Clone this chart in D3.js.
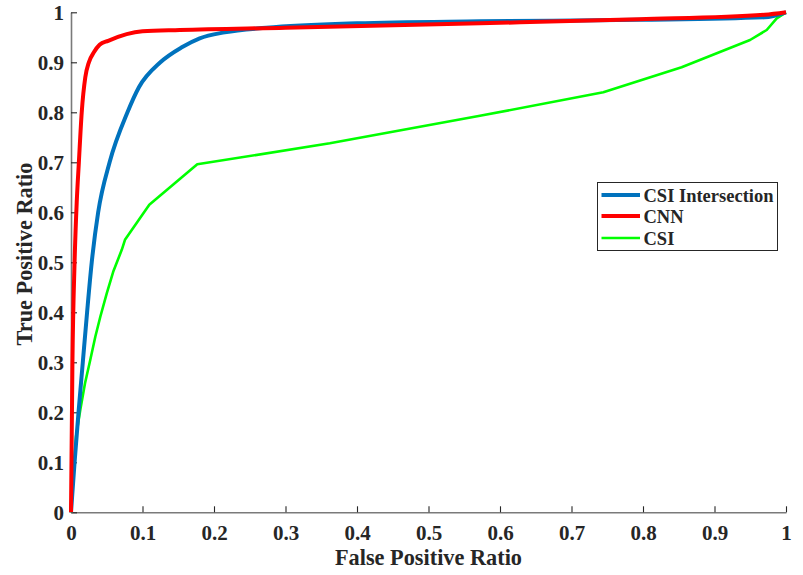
<!DOCTYPE html>
<html>
<head>
<meta charset="utf-8">
<script src="https://cdn.jsdelivr.net/npm/d3@7"></script>
<style>
  html, body { margin: 0; padding: 0; background: #fff; }
  svg text { font-family: "Liberation Serif", "Times New Roman", serif; font-weight: bold; fill: #262626; }
</style>
</head>
<body>
<svg id="chart" width="803" height="575"></svg>
<script>
// ROC curves: false positive ratio (x) vs true positive ratio (y)
const seriesNames = ["CSI Intersection", "CNN", "CSI"];
const seriesColors = ["#0072BD", "#FF0000", "#00FF00"];
const seriesWidths = [4, 4, 2.6];

const csiIntersectionFpr = [0, 0.005, 0.0105, 0.0165, 0.0225, 0.029, 0.038, 0.054, 0.079, 0.095, 0.125, 0.155, 0.180, 0.215, 0.273, 0.4, 0.572, 0.795, 0.97, 1];
const csiIntersectionTpr = [0, 0.1, 0.2, 0.3, 0.4, 0.5, 0.6, 0.7, 0.8, 0.85, 0.9, 0.93, 0.948, 0.960, 0.969, 0.978, 0.982, 0.985, 0.990, 1];

const cnnFpr = [0, 0.002, 0.005, 0.008, 0.011, 0.015, 0.020, 0.025, 0.032, 0.040, 0.052, 0.100, 0.152, 0.3, 0.572, 0.795, 0.97, 1];
const cnnTpr = [0, 0.3, 0.5, 0.62, 0.7, 0.8, 0.87, 0.9, 0.92, 0.935, 0.943, 0.962, 0.9646, 0.969, 0.978, 0.986, 0.995, 1];

const csiFpr = [0, 0.007, 0.013, 0.0196, 0.027, 0.034, 0.041, 0.050, 0.059, 0.071, 0.0755, 0.1095, 0.1766, 0.362, 0.572, 0.7445, 0.854, 0.9497, 0.973, 0.987, 1];
const csiTpr = [0, 0.151, 0.205, 0.258, 0.305, 0.351, 0.391, 0.438, 0.481, 0.525, 0.545, 0.615, 0.696, 0.738, 0.793, 0.840, 0.890, 0.9446, 0.9646, 0.988, 1];

const tickValues = [0, 0.1, 0.2, 0.3, 0.4, 0.5, 0.6, 0.7, 0.8, 0.9, 1];
const tickLabels = ["0", "0.1", "0.2", "0.3", "0.4", "0.5", "0.6", "0.7", "0.8", "0.9", "1"];

const xTitle = "False Positive Ratio";
const yTitle = "True Positive Ratio";

const svg = d3.select("#chart");
const plotLeft = 71, plotRight = 786, plotTop = 12.3, plotBottom = 512.3;

const x = d3.scaleLinear().domain([0, 1]).range([plotLeft, plotRight]);
const y = d3.scaleLinear().domain([0, 1]).range([plotBottom, plotTop]);

const axisColor = "#7a7a7a";
const tickFont = 21;

// x axis (ticks point into the plot)
const xAxis = svg.append("g")
  .attr("transform", `translate(0,${plotBottom})`)
  .call(d3.axisBottom(x).tickValues(tickValues).tickFormat((d, i) => tickLabels[i]).tickSizeInner(-6).tickSizeOuter(0).tickPadding(13));
xAxis.select(".domain").attr("stroke", axisColor).attr("stroke-width", 1.6);
xAxis.selectAll(".tick line").attr("stroke", "#262626").attr("stroke-width", 1.1);
xAxis.selectAll("text").attr("font-size", tickFont).attr("fill", "#262626");

// y axis
const yAxis = svg.append("g")
  .attr("transform", `translate(${plotLeft},0)`)
  .call(d3.axisLeft(y).tickValues(tickValues).tickFormat((d, i) => tickLabels[i]).tickSizeInner(-6).tickSizeOuter(0).tickPadding(7));
yAxis.select(".domain").attr("stroke", axisColor).attr("stroke-width", 1.6);
yAxis.selectAll(".tick line").attr("stroke", "#262626").attr("stroke-width", 1.1);
yAxis.selectAll("text").attr("font-size", tickFont).attr("fill", "#262626");

// axis titles
svg.append("text")
  .attr("x", (plotLeft + plotRight) / 2)
  .attr("y", 565)
  .attr("text-anchor", "middle")
  .attr("font-size", 22.3)
  .text(xTitle);

svg.append("text")
  .attr("transform", "translate(32,254) rotate(-90)")
  .attr("text-anchor", "middle")
  .attr("font-size", 22.3)
  .text(yTitle);

// curves: the two dense curves are smoothed, the CSI curve keeps its corners
const seriesData = [
  d3.zip(csiIntersectionFpr, csiIntersectionTpr),
  d3.zip(cnnFpr, cnnTpr),
  d3.zip(csiFpr, csiTpr)
];
const seriesCurves = [d3.curveMonotoneX, d3.curveMonotoneX, d3.curveLinear];
// green underneath, then blue, red on top
[2, 0, 1].forEach(i => {
  const lineGen = d3.line().x(d => x(d[0])).y(d => y(d[1])).curve(seriesCurves[i]);
  svg.append("path")
    .datum(seriesData[i])
    .attr("fill", "none")
    .attr("stroke", seriesColors[i])
    .attr("stroke-width", seriesWidths[i])
    .attr("stroke-linejoin", "round")
    .attr("d", lineGen);
});

// legend
const legend = svg.append("g");
legend.append("rect")
  .attr("x", 597.5).attr("y", 182.5)
  .attr("width", 180).attr("height", 68)
  .attr("fill", "#fff")
  .attr("stroke", "#262626")
  .attr("stroke-width", 1);
const rowY = [195, 216, 238];
seriesNames.forEach((name, i) => {
  legend.append("line")
    .attr("x1", 601.5).attr("x2", 640)
    .attr("y1", rowY[i]).attr("y2", rowY[i])
    .attr("stroke", seriesColors[i])
    .attr("stroke-width", seriesWidths[i]);
  legend.append("text")
    .attr("x", 643.5).attr("y", rowY[i] + 6.5)
    .attr("font-size", 18.5)
    .text(name);
});
</script>
</body>
</html>
